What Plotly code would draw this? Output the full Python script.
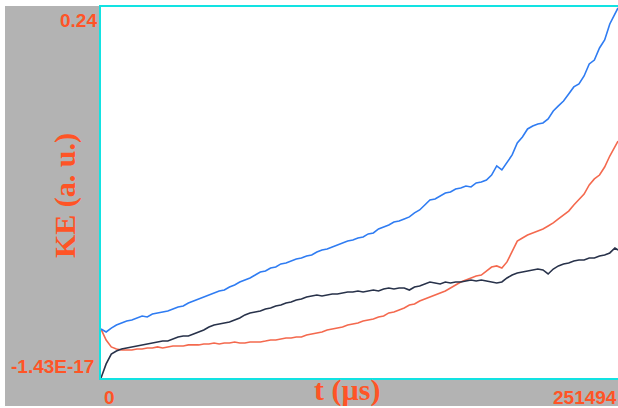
import plotly.graph_objects as go

# Sampling times (µs) and kinetic energies (units of 1e-3 a.u.)
T_END = 251494
t_us = list(range(0, 250001, 2500)) + [T_END]

ke_blue = [
    31.7, 29.8, 32.3, 34.3, 35.6, 36.9, 37.5, 38.8, 40.1, 39.5,
    41.4, 42.1, 42.7, 43.3, 44.6, 45.9, 46.6, 48.5, 49.8, 51.1,
    52.4, 53.7, 55.0, 56.3, 56.9, 58.9, 60.2, 62.1, 63.4, 64.7,
    66.6, 68.6, 69.2, 71.2, 71.8, 73.8, 74.4, 75.7, 77.0, 77.6,
    78.9, 79.6, 81.5, 82.8, 83.5, 84.8, 86.1, 87.3, 88.6, 89.3,
    90.6, 91.2, 93.2, 93.8, 96.4, 97.7, 99.0, 100.9, 101.6, 102.9,
    104.2, 106.8, 108.7, 111.9, 115.2, 115.8, 117.8, 119.7, 120.3, 122.3,
    122.9, 124.2, 123.6, 126.2, 126.8, 128.1, 131.3, 137.2, 134.6, 139.8,
    144.3, 152.0, 155.9, 161.1, 163.0, 164.3, 165.0, 167.6, 172.7, 176.0,
    179.2, 183.7, 188.3, 190.2, 195.4, 203.2, 205.7, 213.5, 218.7, 229.0,
    234.9, 239.4,
]

ke_red = [
    31.7, 24.6, 20.1, 18.8, 18.1, 18.1, 18.1, 18.8, 18.8, 19.4,
    19.4, 20.1, 19.4, 20.1, 20.7, 20.7, 20.7, 21.4, 21.4, 21.4,
    22.0, 22.0, 22.6, 22.0, 22.6, 22.6, 23.3, 22.6, 22.6, 23.3,
    23.3, 23.3, 23.9, 24.6, 24.6, 25.2, 25.9, 25.9, 26.5, 26.5,
    27.8, 28.5, 29.1, 29.8, 31.1, 31.7, 32.4, 33.0, 34.3, 34.9,
    35.6, 36.9, 37.5, 38.2, 39.5, 40.1, 42.1, 42.7, 44.0, 45.3,
    47.2, 47.9, 49.8, 51.1, 52.4, 53.7, 55.0, 56.3, 58.2, 60.2,
    62.1, 63.4, 64.7, 66.0, 66.6, 69.2, 71.8, 72.5, 71.2, 75.1,
    82.2, 88.6, 90.6, 92.5, 93.8, 95.1, 96.4, 98.3, 100.3, 102.9,
    105.5, 108.0, 111.9, 115.2, 119.0, 124.9, 128.8, 131.3, 136.5, 143.6,
    149.5, 153.3,
]

ke_dark = [
    0.0, 9.1, 15.5, 17.5, 18.8, 19.4, 20.1, 20.7, 21.4, 22.0,
    22.6, 23.3, 23.9, 23.9, 25.2, 26.5, 27.2, 27.2, 28.5, 29.8,
    31.1, 33.0, 34.3, 34.9, 35.6, 36.2, 37.5, 38.8, 40.8, 42.1,
    42.7, 43.3, 44.6, 45.3, 46.6, 47.2, 48.5, 49.2, 50.5, 51.1,
    52.4, 53.1, 53.7, 53.1, 53.7, 54.3, 54.3, 55.0, 55.6, 55.6,
    56.3, 55.6, 56.3, 56.9, 56.3, 57.6, 58.2, 57.6, 58.2, 58.2,
    56.9, 58.9, 59.5, 60.8, 62.1, 61.5, 60.8, 62.1, 61.5, 62.1,
    62.1, 62.8, 63.4, 62.8, 63.4, 62.8, 62.1, 61.5, 62.1, 64.7,
    66.6, 67.9, 68.6, 69.2, 69.9, 70.5, 69.9, 67.3, 70.5, 72.5,
    73.8, 74.4, 75.7, 76.3, 76.3, 77.6, 77.6, 78.9, 79.6, 80.9,
    84.1, 82.8,
]

Y_MIN = -1.43e-17
Y_MAX = 0.24
y_tick_text = ["-1.43E-17", "0.24"]
x_tick_text = ["0", "251494"]

LABEL = "#ff5426"
GRAY = "#b3b3b3"
CYAN = "#12e2e2"

series = [
    (ke_red, "#f4694e"),
    (ke_dark, "#28324a"),
    (ke_blue, "#2f7cf2"),
]

fig = go.Figure()
for values, color in series:
    fig.add_trace(go.Scatter(
        x=t_us, y=[v * 1e-3 for v in values], mode="lines",
        line=dict(color=color, width=1.6), showlegend=False,
        hoverinfo="skip",
    ))

W, H = 618, 408
L, R, T, B = 101, 0, 7, 30
pw, ph = W - L - R, H - T - B


def px_x(px):
    return (px - L) / pw


def px_y(py):
    return (H - B - py) / ph


# White frame around the gray panel
shapes = [
    dict(type="rect", xref="paper", yref="paper", layer="below",
         x0=px_x(0), x1=px_x(W), y0=px_y(6), y1=px_y(0),
         fillcolor="white", line_width=0),
    dict(type="rect", xref="paper", yref="paper", layer="below",
         x0=px_x(0), x1=px_x(5), y0=px_y(H), y1=px_y(0),
         fillcolor="white", line_width=0),
    dict(type="rect", xref="paper", yref="paper", layer="below",
         x0=px_x(0), x1=px_x(W), y0=px_y(H), y1=px_y(406),
         fillcolor="white", line_width=0),
]

tick_font = dict(family="Liberation Sans, Arial", size=19, color=LABEL)
title_font = dict(family="Liberation Serif, Times New Roman", size=30, color=LABEL)

annotations = [
    dict(text="<b>%s</b>" % y_tick_text[1], xref="paper", yref="y", x=0, y=Y_MAX,
         xanchor="right", yanchor="top", xshift=-2, yshift=-1,
         showarrow=False, font=tick_font),
    dict(text="<b>%s</b>" % y_tick_text[0], xref="paper", yref="y", x=0, y=Y_MIN,
         xanchor="right", yanchor="bottom", xshift=-5, yshift=-1,
         showarrow=False, font=tick_font),
    dict(text="<b>%s</b>" % x_tick_text[0], xref="x", yref="paper", x=0, y=0,
         xanchor="left", yanchor="top", xshift=1, yshift=-7,
         showarrow=False, font=tick_font),
    dict(text="<b>%s</b>" % x_tick_text[1], xref="x", yref="paper", x=T_END, y=0,
         xanchor="right", yanchor="top", xshift=1, yshift=-7,
         showarrow=False, font=tick_font),
    dict(text="<b>KE (a. u.)</b>", xref="paper", yref="paper",
         x=px_x(65), y=px_y(196), textangle=-90,
         xanchor="center", yanchor="middle", showarrow=False, font=title_font),
    dict(text="<b>t (µs)</b>", xref="paper", yref="paper",
         x=px_x(347), y=px_y(390), xanchor="center", yanchor="middle",
         showarrow=False, font=title_font),
]

fig.update_layout(
    width=W, height=H,
    margin=dict(l=L, r=R, t=T, b=B, pad=0),
    paper_bgcolor=GRAY, plot_bgcolor="white",
    shapes=shapes, annotations=annotations,
    xaxis=dict(range=[0, T_END], showgrid=False, zeroline=False,
               showticklabels=False, ticks="", showline=True,
               linecolor=CYAN, linewidth=2, mirror=True),
    yaxis=dict(range=[Y_MIN, Y_MAX], showgrid=False, zeroline=False,
               showticklabels=False, ticks="", showline=True,
               linecolor=CYAN, linewidth=2, mirror=False),
)

fig.write_html("out.html")
